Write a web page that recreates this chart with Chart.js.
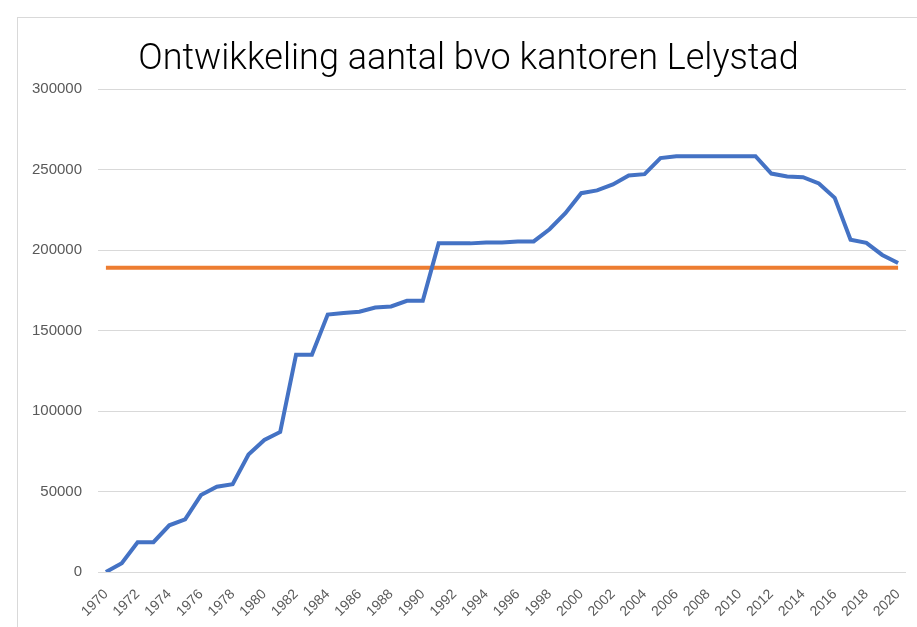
<!DOCTYPE html>
<html>
<head>
<meta charset="utf-8">
<script src="https://cdn.jsdelivr.net/npm/chart.js@4"></script>
<style>
  html, body { margin: 0; padding: 0; background: #fff; }
  #wrap { position: relative; width: 917px; height: 627px; overflow: hidden; }
  #frame { position: absolute; left: 17px; top: 17px; width: 1000px; height: 700px;
           border-left: 1px solid #d9d9d9; border-top: 1px solid #d9d9d9; }
  #c { position: absolute; left: 0; top: 0; }
</style>
</head>
<body>
<div id="wrap">
  <div id="frame"></div>
  <canvas id="c" width="917" height="627"></canvas>
</div>
<script>
// Ontwikkeling aantal bvo kantoren Lelystad
const years = [
  1970, 1971, 1972, 1973, 1974, 1975, 1976, 1977, 1978, 1979,
  1980, 1981, 1982, 1983, 1984, 1985, 1986, 1987, 1988, 1989,
  1990, 1991, 1992, 1993, 1994, 1995, 1996, 1997, 1998, 1999,
  2000, 2001, 2002, 2003, 2004, 2005, 2006, 2007, 2008, 2009,
  2010, 2011, 2012, 2013, 2014, 2015, 2016, 2017, 2018, 2019,
  2020
];
const bvo = [
  0, 5500, 18500, 18500, 29000, 32700, 47800, 53000, 54500, 73000,
  82000, 87000, 135000, 135000, 160000, 161000, 161700, 164300, 165000, 168500,
  168500, 204200, 204200, 204200, 204800, 204800, 205400, 205400, 213000, 223000,
  235400, 237100, 240800, 246400, 247200, 257200, 258400, 258400, 258400, 258400,
  258400, 258400, 247600, 245800, 245300, 241400, 232500, 206500, 204500, 197000,
  192000
];
const niveau = [
  189000, 189000, 189000, 189000, 189000, 189000, 189000, 189000, 189000, 189000,
  189000, 189000, 189000, 189000, 189000, 189000, 189000, 189000, 189000, 189000,
  189000, 189000, 189000, 189000, 189000, 189000, 189000, 189000, 189000, 189000,
  189000, 189000, 189000, 189000, 189000, 189000, 189000, 189000, 189000, 189000,
  189000, 189000, 189000, 189000, 189000, 189000, 189000, 189000, 189000, 189000,
  189000
];
const yTicks = [0, 50000, 100000, 150000, 200000, 250000, 300000];

const fontFam = "'Liberation Sans', 'Open Sans', sans-serif";

new Chart(document.getElementById("c"), {
  type: "line",
  data: {
    labels: years.map(String),
    datasets: [
      {
        label: "bvo",
        data: bvo,
        borderColor: "#4472C4",
        borderWidth: 4,
        pointRadius: 0,
        tension: 0,
        order: 1,
      },
      {
        label: "niveau",
        data: niveau,
        borderColor: "#ED7D31",
        borderWidth: 4,
        pointRadius: 0,
        tension: 0,
        order: 2,
      },
    ],
  },
  options: {
    responsive: false,
    animation: false,
    // some left padding pushes the title towards the centre of the chart frame
    layout: { padding: { left: 31, right: 11, top: 0, bottom: 0 } },
    plugins: {
      legend: { display: false },
      tooltip: { enabled: false },
      title: {
        display: true,
        text: "Ontwikkeling aantal bvo kantoren Lelystad",
        color: "#000",
        font: { family: "Roboto, 'DejaVu Sans', sans-serif", size: 36, weight: 300, lineHeight: 1.2 },
        padding: { top: 38, bottom: 8 },
      },
    },
    scales: {
      x: {
        offset: true,
        grid: { display: false },
        border: { display: false },
        ticks: {
          autoSkip: false,
          maxRotation: 45,
          minRotation: 45,
          padding: 6,
          color: "#595959",
          font: { family: fontFam, size: 14 },
          callback: function (v, i) { return i % 2 === 0 ? this.getLabelForValue(v) : ""; },
        },
        afterFit: (s) => { s.height = 55; },
      },
      y: {
        min: 0,
        max: 300000,
        afterBuildTicks: (s) => { s.ticks = yTicks.map((v) => ({ value: v })); },
        grid: { color: "#d9d9d9", lineWidth: 1, drawTicks: false },
        border: { display: false },
        ticks: {
          padding: 16,
          color: "#595959",
          font: { family: fontFam, size: 15 },
          callback: (v) => String(v),
        },
        afterFit: (s) => { s.width = 67; },
      },
    },
  },
});
</script>
</body>
</html>
